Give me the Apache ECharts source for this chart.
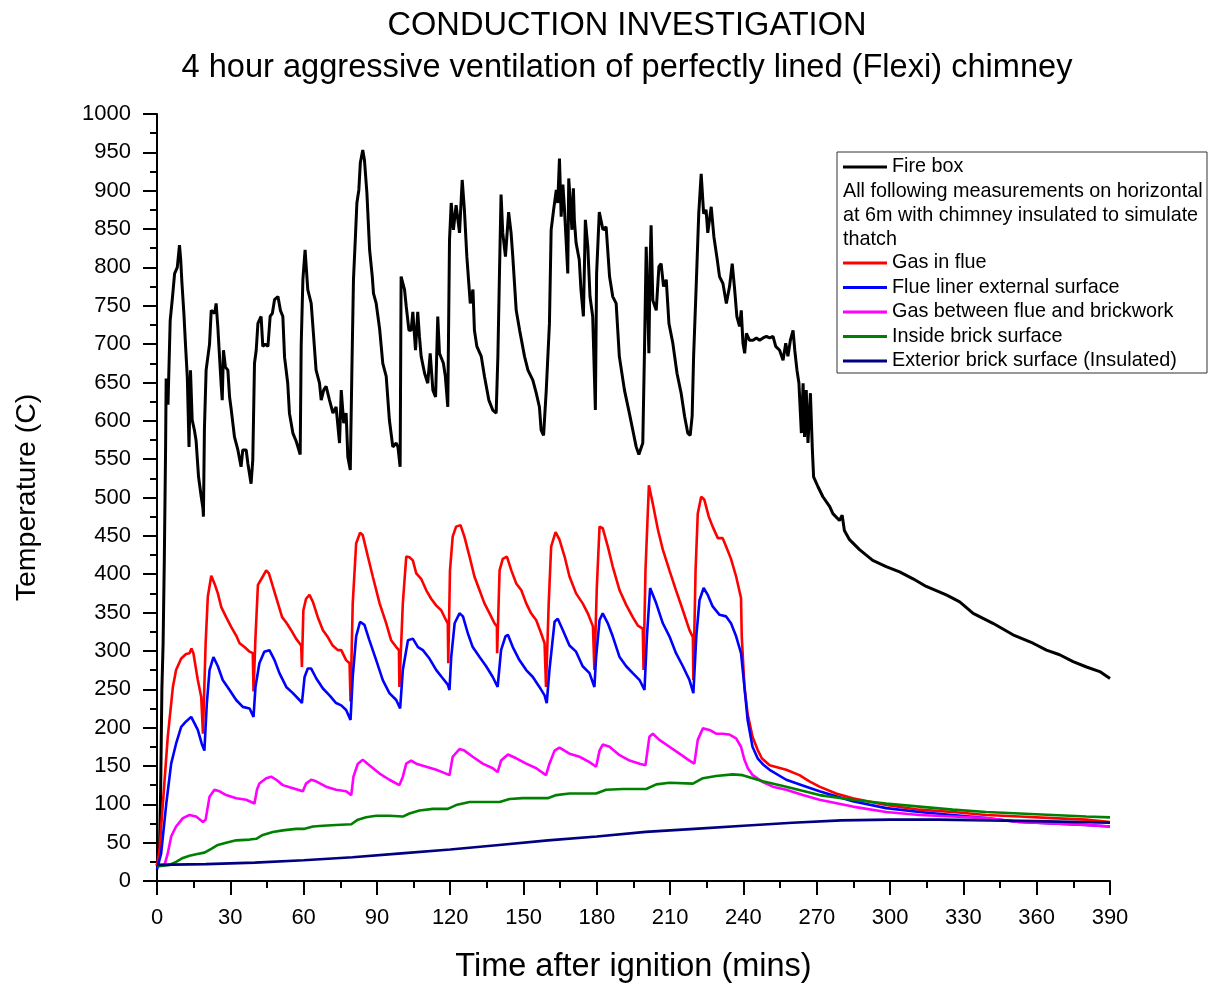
<!DOCTYPE html>
<html>
<head>
<meta charset="utf-8">
<script src="https://cdn.jsdelivr.net/npm/echarts@6.0.0/dist/echarts.min.js"></script>
<style>
html,body{margin:0;padding:0;background:#fff;}
#main{width:1224px;height:983px;}
</style>
</head>
<body>
<div id="main"></div>
<script>
// ---- Data (time in minutes, temperature in C) ----
var titleLines = ['CONDUCTION INVESTIGATION', '4 hour aggressive ventilation of perfectly lined (Flexi) chimney'];
var xAxisName = 'Time after ignition (mins)';
var yAxisName = 'Temperature (C)';
var legendNote = ['All following measurements on horizontal', 'at 6m with chimney insulated to simulate', 'thatch'];
var seriesNames = ['Fire box', 'Gas in flue', 'Flue liner external surface', 'Gas between flue and brickwork', 'Inside brick surface', 'Exterior brick surface (Insulated)'];
var seriesColors = ['#000000', '#FF0000', '#0000FF', '#FF00FF', '#008000', '#000080'];

var fireBox = [[0,20],[1,40],[1.5,120],[2,250],[2.5,310],[3,420],[3.5,560],[3.75,655],[4.5,621],[5.4,731],[6.3,760],[7.2,792],[8.3,800],[9.2,829],[9.7,810],[10.2,780],[11.0,740],[11.7,697],[12.4,657],[13.1,566],[13.7,666],[14.4,601],[15.3,588],[16.0,574],[17.0,527],[18.1,501],[18.8,486],[19.0,475],[19.4,588],[20.1,666],[21.5,700],[22.2,744],[23.6,740],[24.2,753],[24.9,722],[25.6,683],[26.3,645],[26.7,627],[27.2,692],[28.0,670],[29.0,666],[29.7,631],[30.4,614],[31.7,579],[33.1,562],[34.4,540],[35.1,562],[36.5,562],[37.2,544],[38.5,518],[39.2,549],[39.9,675],[40.6,692],[41.3,727],[42.6,736],[43.3,697],[44.3,700],[45.4,697],[46.3,736],[47.2,740],[48.1,758],[49.5,762],[50.5,744],[51.5,736],[52.2,683],[53.5,649],[54.2,610],[55.6,584],[57.0,573],[58.6,556],[59.0,697],[59.7,784],[60.6,823],[61.7,771],[63.1,753],[63.8,723],[65.1,666],[66.5,649],[67.2,627],[68.2,640],[69.2,645],[70.6,627],[72.0,610],[73.3,618],[74.7,571],[75.4,640],[76.4,597],[77.4,610],[78.1,553],[79.1,536],[79.8,675],[80.4,784],[81.2,840],[81.8,884],[82.6,901],[83.2,936],[84.2,953],[84.9,940],[85.9,897],[87.0,823],[88.1,788],[88.6,766],[89.7,753],[91.1,720],[92.4,675],[93.8,658],[95.1,601],[96.5,566],[97.9,571],[98.6,566],[99.5,540],[99.9,788],[100.6,788],[101.3,771],[102.0,749],[103.1,718],[104.0,718],[104.7,742],[105.8,692],[106.7,742],[107.4,710],[108.1,684],[109.5,662],[110.8,649],[111.8,688],[112.9,640],[114.0,631],[114.9,736],[115.6,688],[117.2,675],[118.0,658],[119.0,618],[119.7,835],[120.4,884],[121.3,849],[122.4,881],[123.8,845],[124.9,914],[125.8,875],[126.8,814],[128.2,753],[129.3,771],[129.9,718],[130.9,697],[132.7,684],[134.0,658],[135.8,627],[137.4,614],[138.8,610],[139.5,684],[140.1,784],[140.8,895],[141.5,845],[142.6,814],[143.9,872],[144.9,845],[145.6,814],[147.0,744],[148.4,718],[150.4,684],[151.8,666],[153.8,653],[155.2,636],[156.5,618],[157.2,588],[158.2,581],[159.3,640],[160.6,727],[161.3,849],[162.3,875],[163.4,901],[164.0,884],[164.7,942],[165.4,866],[166.1,908],[166.7,879],[167.4,836],[168.1,792],[168.5,916],[169.0,892],[169.8,849],[170.4,903],[170.8,862],[171.5,832],[172.8,810],[173.5,771],[174.5,736],[175.3,862],[176.3,827],[177.2,762],[178.3,736],[179.4,614],[179.9,792],[181.0,872],[182.5,849],[183.8,853],[185.2,788],[186.5,762],[187.9,753],[189.2,684],[191.3,640],[193.3,610],[194.7,588],[196.1,566],[197.2,556],[198.8,571],[199.5,692],[200.2,827],[201.3,688],[201.8,805],[202.2,855],[202.9,757],[204.3,744],[205.4,801],[206.3,805],[207.3,775],[208.4,784],[209.5,727],[211.1,701],[212.8,662],[214.5,636],[215.9,606],[217.2,584],[218.2,581],[219.0,606],[219.6,684],[220.6,771],[221.7,870],[222.7,922],[223.7,870],[224.7,875],[225.4,845],[226.8,879],[227.9,840],[229.1,814],[230.2,788],[231.6,779],[233.0,753],[234.3,775],[235.4,805],[236.4,771],[237.3,736],[238.4,723],[239.1,744],[239.8,701],[240.5,688],[241.2,714],[242.5,705],[243.9,705],[245.3,708],[246.6,705],[248.0,708],[249.4,710],[250.7,708],[252.1,710],[253.2,697],[254.8,692],[256.2,679],[257.3,701],[258.2,684],[259.2,705],[260.3,718],[261.0,692],[261.9,666],[262.7,649],[263.7,584],[264.4,649],[265.0,579],[265.7,640],[266.4,571],[267.4,636],[268.2,562],[268.7,527],[270.5,514],[272.5,501],[275.3,488],[276.6,479],[279.3,470],[280.4,477],[281.3,457],[283.4,445],[287.5,432],[292.9,418],[298.4,410],[303.9,403],[309.4,394],[314.8,384],[323.0,373],[328.5,364],[334.0,349],[342.1,336],[350.3,321],[358.5,310],[364.0,301],[369.4,295],[374.9,286],[380.4,279],[385.8,273],[390,264]];

var gasInFlue = [[0,20],[1,40],[2.4,101],[4.4,188],[6.5,253],[7.8,275],[9.9,290],[11.9,296],[13.3,297],[14.1,303],[14.9,297],[16.7,262],[18.1,240],[18.8,192],[19.9,310],[20.8,371],[22.2,398],[23.5,388],[24.9,375],[26.3,357],[28.3,344],[30.4,331],[32.4,320],[33.8,310],[35.8,305],[37.9,299],[39.2,297],[39.5,247],[40.3,318],[41.3,386],[43.3,397],[44.7,405],[45.8,401],[47.4,384],[49.5,362],[51.2,344],[53.1,336],[54.9,327],[56.9,316],[59.0,307],[59.3,279],[59.9,353],[61.0,368],[62.4,373],[63.8,364],[65.8,344],[67.9,327],[69.9,318],[71.9,307],[74.0,301],[75.4,301],[77.4,288],[78.8,284],[79.2,234],[80.1,362],[81.5,440],[83.1,454],[84.2,451],[86.3,423],[88.3,397],[91.1,362],[93.8,336],[95.8,314],[97.9,305],[99.0,301],[99.2,253],[100.6,362],[102.0,423],[103.3,422],[104.7,418],[106.1,401],[108.1,394],[110.2,379],[112.2,368],[114.3,359],[116.3,353],[118.3,340],[119.0,336],[119.2,284],[119.9,405],[121.0,449],[122.4,462],[124.2,464],[125.8,449],[127.9,423],[129.9,397],[132.0,379],[134.0,362],[136.1,349],[138.1,336],[139.1,332],[139.2,297],[140.2,405],[141.5,420],[143.2,423],[145.0,405],[147.0,388],[149.1,379],[151.1,362],[153.1,349],[155.2,340],[157.2,323],[158.6,310],[159.2,253],[160.3,362],[161.3,436],[163.1,455],[164.7,445],[166.8,423],[168.8,397],[171.5,375],[174.2,362],[176.3,349],[178.4,332],[179.0,275],[180.0,384],[181.1,462],[182.4,460],[184.5,436],[186.5,410],[189.3,379],[192.0,360],[194.7,344],[196.8,333],[198.8,329],[199.1,275],[199.9,405],[201.3,516],[202.9,492],[205.0,458],[207.0,432],[209.7,405],[212.4,379],[215.2,353],[217.9,327],[219.3,318],[219.5,262],[220.4,405],[221.3,479],[222.7,501],[224.0,497],[225.8,475],[227.4,462],[229.5,447],[231.5,447],[232.9,436],[234.9,420],[237.0,397],[239.0,369],[239.3,319],[240.4,253],[241.7,218],[243.7,188],[245.8,171],[247.5,160],[250.7,151],[257.5,145],[262.9,138],[267.0,130],[271.1,123],[277.9,114],[284.7,108],[298.4,99],[312.0,93],[325.6,90],[339.3,86],[352.9,84],[366.5,82],[380.2,80],[390,77]];

var flueLiner = [[0,15],[1.7,36],[3.8,101],[5.8,153],[7.8,179],[9.9,201],[11.9,208],[14.0,214],[14.7,216],[16.7,197],[18.3,179],[19.4,170],[20.4,232],[21.5,275],[23.1,292],[24.9,280],[26.9,262],[29.7,249],[32.4,236],[35.1,227],[37.9,225],[39.5,214],[40.3,253],[41.9,284],[43.9,299],[46.0,301],[48.1,288],[50.1,271],[52.9,253],[55.6,245],[58.3,236],[59.3,232],[60.4,266],[61.7,277],[63.1,277],[65.2,264],[67.9,251],[70.6,242],[73.3,232],[75.4,229],[77.4,223],[79.2,210],[80.1,266],[81.5,319],[83.1,338],[84.9,334],[86.9,314],[89.7,288],[92.4,262],[95.1,245],[97.9,236],[99.5,225],[100.6,275],[102.7,314],[104.7,316],[106.8,305],[108.8,301],[111.5,290],[114.3,275],[117.0,264],[119.0,256],[119.7,249],[120.4,292],[121.8,336],[123.8,349],[125.2,345],[127.2,323],[129.2,305],[132.0,292],[134.7,280],[137.4,266],[139.4,253],[140.8,301],[142.6,319],[143.6,321],[145.6,305],[148.3,288],[151.1,275],[153.8,266],[156.5,253],[158.6,242],[159.5,232],[160.6,275],[162.7,338],[164.0,342],[166.1,327],[168.8,307],[171.5,299],[174.2,280],[177.0,271],[179.0,253],[179.7,292],[181.1,340],[182.4,349],[184.5,336],[186.5,319],[189.3,292],[192.0,280],[194.7,271],[197.5,262],[199.5,249],[200.5,319],[201.8,382],[204.3,362],[207.0,336],[209.7,319],[212.4,297],[215.2,280],[217.9,262],[219.5,245],[220.7,319],[222.0,366],[223.7,382],[225.4,373],[227.4,358],[230.2,347],[232.9,345],[234.9,336],[237.0,319],[239.0,297],[240.4,253],[241.7,210],[243.7,175],[245.8,160],[248.0,152],[250.7,145],[257.5,132],[265.7,123],[271.1,117],[284.7,104],[298.4,95],[312.0,90],[325.6,86],[339.3,82],[352.9,77],[366.5,75],[380.2,73],[390,71]];

var gasBetween = [[0,20],[3.1,21],[4.4,36],[5.8,58],[7.8,71],[10.6,82],[13.3,86],[16.0,84],[18.8,77],[19.9,80],[21.5,110],[23.5,119],[25.6,117],[28.3,112],[32.4,108],[36.5,106],[39.9,101],[40.9,119],[41.9,127],[44.7,134],[46.7,136],[48.8,132],[51.5,125],[55.6,121],[59.7,117],[61.0,127],[63.1,132],[65.1,130],[69.2,123],[73.3,119],[77.4,117],[79.5,112],[80.4,136],[82.2,153],[84.2,158],[86.9,151],[91.1,140],[95.1,132],[99.2,125],[100.6,136],[102.0,153],[104.0,157],[106.1,153],[110.2,149],[114.3,145],[117.5,141],[119.7,138],[121.0,162],[123.8,172],[125.8,170],[129.2,162],[133.3,153],[137.4,147],[139.4,142],[140.8,157],[143.6,165],[147.0,160],[151.1,153],[155.2,147],[159.2,138],[160.6,153],[162.7,170],[164.7,174],[168.8,166],[172.9,162],[177.0,155],[179.7,149],[181.1,170],[182.4,178],[185.2,175],[189.3,164],[193.4,157],[197.5,153],[199.9,151],[201.5,188],[202.9,192],[205.6,184],[209.7,175],[213.8,166],[217.9,157],[219.9,153],[221.3,184],[223.4,199],[226.1,197],[228.8,192],[231.5,192],[234.3,191],[237.0,186],[239.0,175],[240.4,158],[241.8,147],[243.8,138],[247.9,129],[252.0,123],[257.5,119],[264.3,112],[271.1,106],[284.7,97],[298.4,90],[312.0,86],[325.6,84],[339.3,82],[352.9,77],[366.5,75],[380.2,73],[390,71]];

var insideBrick = [[0,19],[5.1,21],[7.8,25],[10.6,30],[13.3,33],[16.0,35],[19.4,37],[22.2,42],[24.9,47],[28.3,50],[32.4,53],[37.9,54],[40.6,55],[43.3,60],[47.4,64],[51.5,66],[56.9,68],[60.4,68],[63.8,71],[67.9,72],[73.3,73],[79.5,74],[82.2,80],[85.6,83],[89.7,85],[95.1,85],[100.6,84],[103.3,88],[107.4,92],[112.9,94],[119.0,94],[122.4,99],[127.9,103],[133.3,103],[140.2,103],[144.3,107],[149.7,108],[156.5,108],[159.9,108],[163.4,112],[168.8,114],[175.6,114],[179.7,114],[183.8,119],[190.6,120],[200.2,120],[204.3,126],[209.7,128],[219.3,127],[223.4,134],[228.8,137],[235.6,139],[239.7,138],[245.8,132],[247.9,130],[257.5,123],[271.1,112],[284.7,106],[298.4,101],[312.0,97],[325.6,93],[339.3,90],[352.9,88],[366.5,86],[380.2,84],[390,83]];

var exteriorBrick = [[0,21],[20,22],[40,24],[60,27],[80,31],[100,36],[120,41],[140,47],[160,53],[180,58],[200,64],[220,68],[240,72],[260,76],[280,79],[300,80],[320,80],[340,79],[360,78],[390,76]];

var xTicks = {min: 0, max: 390, step: 30};
var yTicks = {min: 0, max: 1000, step: 50};

// ---- Chart ----
var FONT = '"Liberation Sans", Arial, Helvetica, sans-serif';
var chart = echarts.init(document.getElementById('main'), null, {renderer: 'canvas'});
var seriesData = [fireBox, gasInFlue, flueLiner, gasBetween, insideBrick, exteriorBrick];
var widths = [3, 2.6, 2.6, 2.6, 2.6, 2.6];

var series = seriesData.map(function (d, i) {
  return {
    name: seriesNames[i],
    type: 'line',
    data: d,
    showSymbol: false,
    symbol: 'none',
    lineStyle: {color: seriesColors[i], width: widths[i]},
    itemStyle: {color: seriesColors[i]},
    emphasis: {disabled: true},
    animation: false,
    z: 2 + i
  };
});

var axisCommon = {
  axisLine: {show: true, lineStyle: {color: '#000', width: 2}},
  axisTick: {show: true, inside: false, length: 14, lineStyle: {color: '#000', width: 2}},
  minorTick: {show: true, splitNumber: 2, length: 7, lineStyle: {color: '#000', width: 2}},
  splitLine: {show: false},
  minorSplitLine: {show: false}
};

var option = {
  backgroundColor: '#ffffff',
  animation: false,
  textStyle: {fontFamily: FONT},
  title: {
    text: titleLines.join('\n'),
    left: 627,
    top: 5,
    padding: 0,
    textAlign: 'center',
    textStyle: {fontFamily: FONT, fontSize: 32.6, fontWeight: 'normal', color: '#000', lineHeight: 42}
  },
  grid: {left: 157, right: 114, top: 114, bottom: 102, containLabel: false, outerBoundsMode: 'none'},
  xAxis: Object.assign({
    type: 'value',
    min: xTicks.min, max: xTicks.max, interval: xTicks.step,
    name: xAxisName,
    nameLocation: 'middle',
    nameGap: 70,
    nameTextStyle: {fontFamily: FONT, fontSize: 32.5, color: '#000'},
    axisLabel: {fontFamily: FONT, fontSize: 22, color: '#000', margin: 26, formatter: function (v) { return String(v); }}
  }, axisCommon),
  yAxis: Object.assign({
    type: 'value',
    min: yTicks.min, max: yTicks.max, interval: yTicks.step,
    name: yAxisName,
    nameLocation: 'middle',
    nameGap: 115,
    nameTextStyle: {fontFamily: FONT, fontSize: 28.5, color: '#000'},
    axisLabel: {fontFamily: FONT, fontSize: 22, color: '#000', margin: 26, formatter: function (v) { return String(v); }}
  }, axisCommon),
  legend: [
    {
      data: [seriesNames[0]],
      orient: 'vertical',
      left: 843, top: 157,
      padding: 0,
      icon: 'rect', itemWidth: 44, itemHeight: 3,
      itemGap: 4,
      selectedMode: false,
      textStyle: {fontFamily: FONT, fontSize: 19.8, color: '#000', lineHeight: 20}
    },
    {
      data: seriesNames.slice(1),
      orient: 'vertical',
      left: 843, top: 253,
      padding: 0,
      icon: 'rect', itemWidth: 44, itemHeight: 3,
      itemGap: 4.5,
      selectedMode: false,
      textStyle: {fontFamily: FONT, fontSize: 19.8, color: '#000', lineHeight: 20}
    }
  ],
  graphic: [
    {
      type: 'rect',
      shape: {x: 837, y: 152, width: 370, height: 221},
      style: {fill: 'rgba(0,0,0,0)', stroke: '#333', lineWidth: 1},
      silent: true,
      z: 0
    },
    {
      type: 'text',
      x: 843, y: 180,
      style: {
        text: legendNote.join('\n'),
        font: '19.8px ' + FONT,
        fill: '#000',
        lineHeight: 24,
        textVerticalAlign: 'top'
      },
      silent: true,
      z: 10
    }
  ],
  series: series
};
chart.setOption(option);
</script>
</body>
</html>
